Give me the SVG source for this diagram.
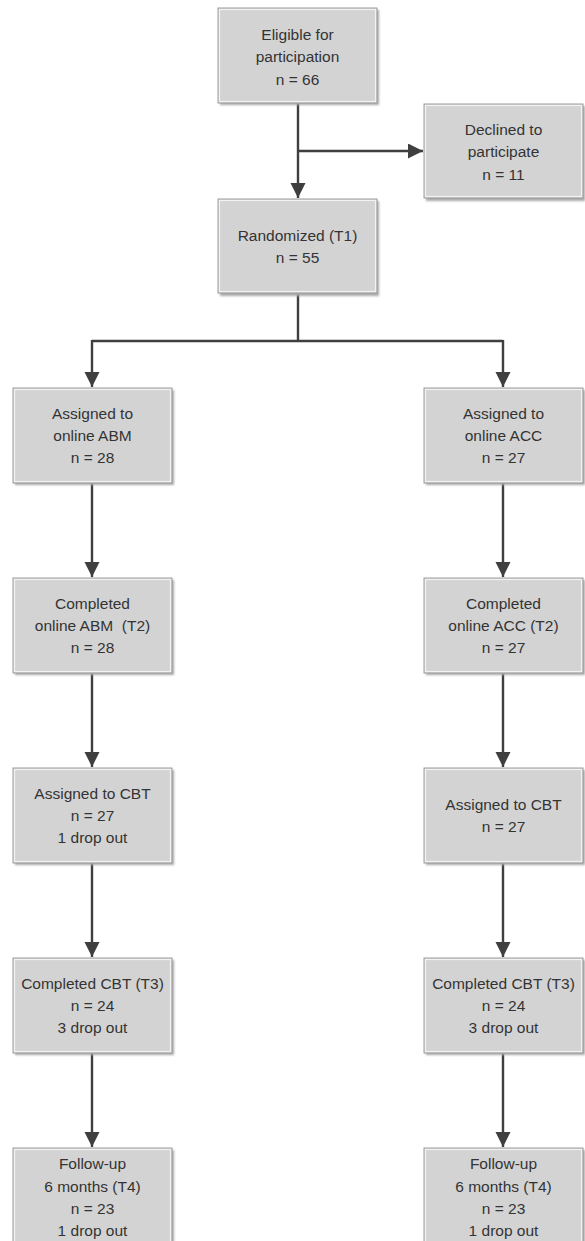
<svg xmlns="http://www.w3.org/2000/svg" width="585" height="1241" viewBox="0 0 585 1241">
<style>
.box{fill:#d3d3d3;stroke:#9e9e9e;stroke-width:1}
.hl{fill:none;stroke:#f2f2f2;stroke-width:1.2}
.sh{fill:#a9a9a9;filter:url(#blur)}
.t{font-family:"Liberation Sans",Arial,sans-serif;font-size:15.5px;fill:#333333;text-anchor:middle}
.c{fill:none;stroke:#3f3f3f;stroke-width:2.4}
</style>
<defs>
<filter id="blur" x="-10%" y="-10%" width="120%" height="120%"><feGaussianBlur stdDeviation="1.2"/></filter>
<marker id="ah" markerUnits="userSpaceOnUse" markerWidth="16" markerHeight="16" refX="15" refY="7.5" orient="auto">
<path d="M0,0 L15,7.5 L0,15 Z" fill="#3f3f3f"/>
</marker>
</defs>
<g id="connectors">
<path class="c" d="M298,103 V198" marker-end="url(#ah)"/>
<path class="c" d="M298,151 H423" marker-end="url(#ah)"/>
<path class="c" d="M298,293 V341 M92,341 H503"/>
<path class="c" d="M92,340 V387" marker-end="url(#ah)"/>
<path class="c" d="M503,340 V387" marker-end="url(#ah)"/>
<path class="c" d="M92,483 V577" marker-end="url(#ah)"/>
<path class="c" d="M92,673 V767" marker-end="url(#ah)"/>
<path class="c" d="M92,863 V957" marker-end="url(#ah)"/>
<path class="c" d="M92,1053 V1147" marker-end="url(#ah)"/>
<path class="c" d="M503,483 V577" marker-end="url(#ah)"/>
<path class="c" d="M503,673 V767" marker-end="url(#ah)"/>
<path class="c" d="M503,863 V957" marker-end="url(#ah)"/>
<path class="c" d="M503,1053 V1147" marker-end="url(#ah)"/>
</g>
<g id="eligible">
<rect class="sh" x="220" y="10" width="159" height="95"/>
<rect class="box" x="218" y="8" width="159" height="95"/>
<rect class="hl" x="219.5" y="9.5" width="156" height="92"/>
<text class="t" x="297.5" y="40">Eligible for</text>
<text class="t" x="297.5" y="62">participation</text>
<text class="t" x="297.5" y="85">n = 66</text>
</g>
<g id="declined">
<rect class="sh" x="426" y="106" width="159" height="95"/>
<rect class="box" x="424" y="104" width="159" height="94"/>
<rect class="hl" x="425.5" y="105.5" width="156" height="91"/>
<text class="t" x="503.5" y="135">Declined to</text>
<text class="t" x="503.5" y="157">participate</text>
<text class="t" x="503.5" y="180">n = 11</text>
</g>
<g id="randomized">
<rect class="sh" x="220" y="201" width="159" height="95"/>
<rect class="box" x="218" y="199" width="159" height="94"/>
<rect class="hl" x="219.5" y="200.5" width="156" height="91"/>
<text class="t" x="297.5" y="241">Randomized (T1)</text>
<text class="t" x="297.5" y="263">n = 55</text>
</g>
<g id="assigned-abm">
<rect class="sh" x="15" y="390" width="159" height="95"/>
<rect class="box" x="13" y="388" width="159" height="95"/>
<rect class="hl" x="14.5" y="389.5" width="156" height="92"/>
<text class="t" x="92.5" y="419">Assigned to</text>
<text class="t" x="92.5" y="441">online ABM</text>
<text class="t" x="92.5" y="463">n = 28</text>
</g>
<g id="assigned-acc">
<rect class="sh" x="426" y="390" width="159" height="95"/>
<rect class="box" x="424" y="388" width="159" height="95"/>
<rect class="hl" x="425.5" y="389.5" width="156" height="92"/>
<text class="t" x="503.5" y="419">Assigned to</text>
<text class="t" x="503.5" y="441">online ACC</text>
<text class="t" x="503.5" y="463">n = 27</text>
</g>
<g id="completed-abm">
<rect class="sh" x="15" y="580" width="159" height="95"/>
<rect class="box" x="13" y="578" width="159" height="95"/>
<rect class="hl" x="14.5" y="579.5" width="156" height="92"/>
<text class="t" x="92.5" y="609">Completed</text>
<text class="t" x="92.5" y="631" xml:space="preserve">online ABM  (T2)</text>
<text class="t" x="92.5" y="653">n = 28</text>
</g>
<g id="completed-acc">
<rect class="sh" x="426" y="580" width="159" height="95"/>
<rect class="box" x="424" y="578" width="159" height="95"/>
<rect class="hl" x="425.5" y="579.5" width="156" height="92"/>
<text class="t" x="503.5" y="609">Completed</text>
<text class="t" x="503.5" y="631">online ACC (T2)</text>
<text class="t" x="503.5" y="653">n = 27</text>
</g>
<g id="cbt-left">
<rect class="sh" x="15" y="770" width="159" height="95"/>
<rect class="box" x="13" y="768" width="159" height="95"/>
<rect class="hl" x="14.5" y="769.5" width="156" height="92"/>
<text class="t" x="92.5" y="799">Assigned to CBT</text>
<text class="t" x="92.5" y="821">n = 27</text>
<text class="t" x="92.5" y="843">1 drop out</text>
</g>
<g id="cbt-right">
<rect class="sh" x="426" y="770" width="159" height="95"/>
<rect class="box" x="424" y="768" width="159" height="95"/>
<rect class="hl" x="425.5" y="769.5" width="156" height="92"/>
<text class="t" x="503.5" y="810">Assigned to CBT</text>
<text class="t" x="503.5" y="832">n = 27</text>
</g>
<g id="completed-cbt-left">
<rect class="sh" x="15" y="960" width="159" height="95"/>
<rect class="box" x="13" y="958" width="159" height="95"/>
<rect class="hl" x="14.5" y="959.5" width="156" height="92"/>
<text class="t" x="92.5" y="989">Completed CBT (T3)</text>
<text class="t" x="92.5" y="1011">n = 24</text>
<text class="t" x="92.5" y="1033">3 drop out</text>
</g>
<g id="completed-cbt-right">
<rect class="sh" x="426" y="960" width="159" height="95"/>
<rect class="box" x="424" y="958" width="159" height="95"/>
<rect class="hl" x="425.5" y="959.5" width="156" height="92"/>
<text class="t" x="503.5" y="989">Completed CBT (T3)</text>
<text class="t" x="503.5" y="1011">n = 24</text>
<text class="t" x="503.5" y="1033">3 drop out</text>
</g>
<g id="followup-left">
<rect class="sh" x="15" y="1150" width="159" height="95"/>
<rect class="box" x="13" y="1148" width="159" height="96"/>
<rect class="hl" x="14.5" y="1149.5" width="156" height="93"/>
<text class="t" x="92.5" y="1169">Follow-up</text>
<text class="t" x="92.5" y="1192">6 months (T4)</text>
<text class="t" x="92.5" y="1214">n = 23</text>
<text class="t" x="92.5" y="1236">1 drop out</text>
</g>
<g id="followup-right">
<rect class="sh" x="426" y="1150" width="159" height="95"/>
<rect class="box" x="424" y="1148" width="159" height="96"/>
<rect class="hl" x="425.5" y="1149.5" width="156" height="93"/>
<text class="t" x="503.5" y="1169">Follow-up</text>
<text class="t" x="503.5" y="1192">6 months (T4)</text>
<text class="t" x="503.5" y="1214">n = 23</text>
<text class="t" x="503.5" y="1236">1 drop out</text>
</g>
</svg>
